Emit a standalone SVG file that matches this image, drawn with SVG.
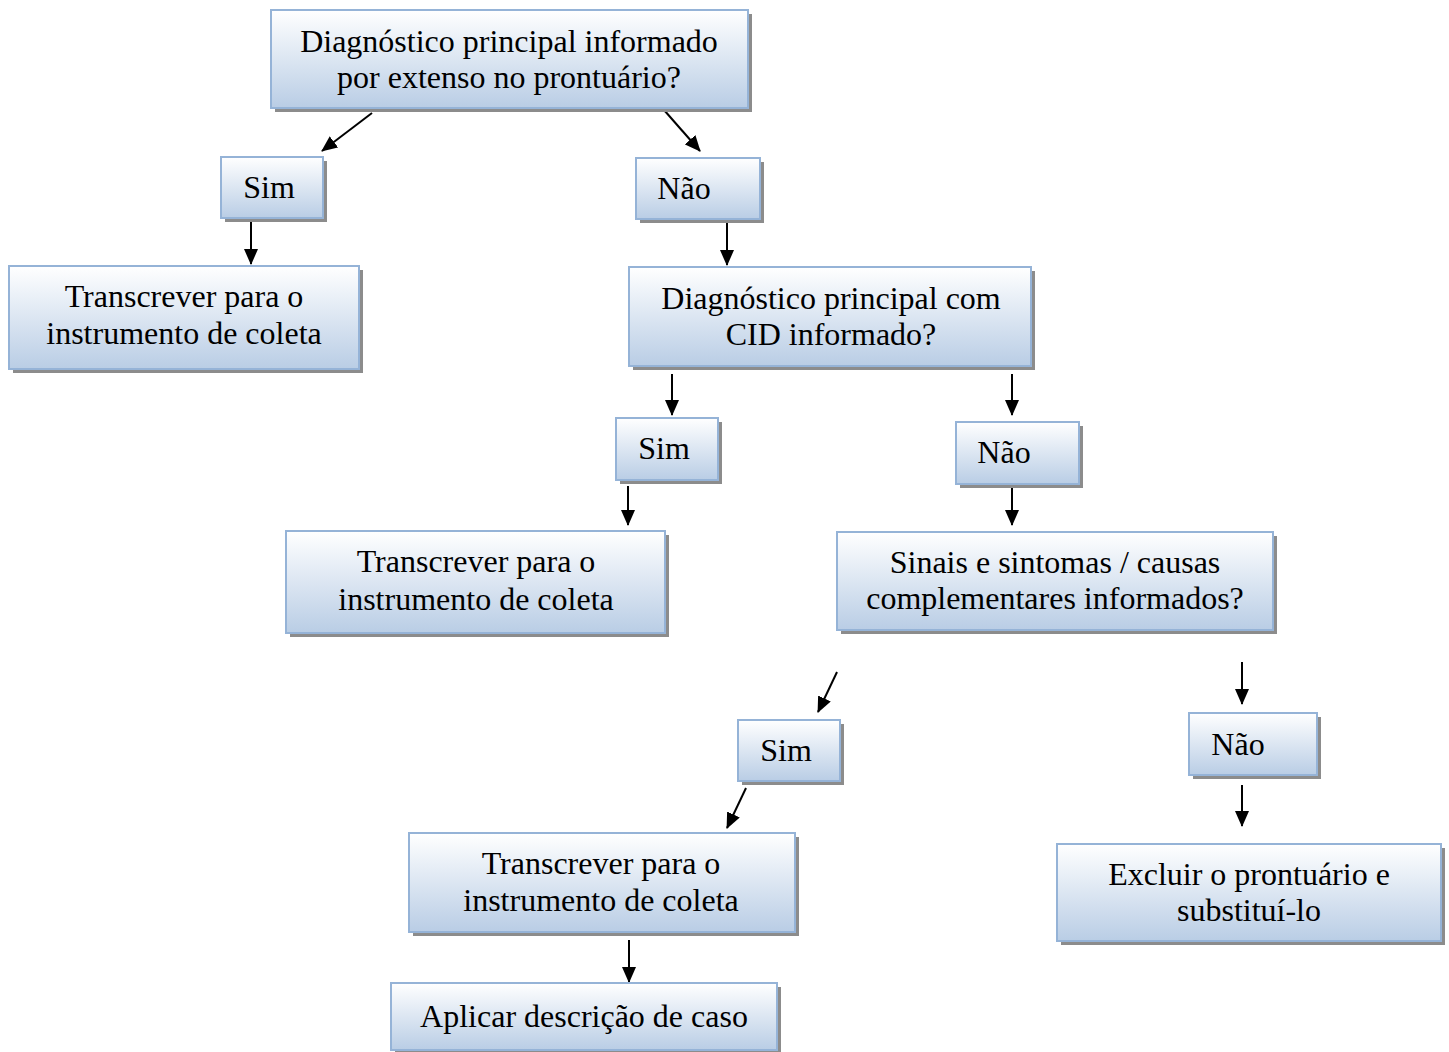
<svg xmlns="http://www.w3.org/2000/svg" width="1449" height="1052" viewBox="0 0 1449 1052">
  <defs>
    <linearGradient id="boxFill" x1="0" y1="0" x2="0" y2="1">
      <stop offset="0" stop-color="#ffffff"/>
      <stop offset="1" stop-color="#b9cde5"/>
    </linearGradient>
    <marker id="arrow" viewBox="0 0 16 14" refX="15" refY="7" markerWidth="16" markerHeight="14" markerUnits="userSpaceOnUse" orient="auto">
      <path d="M0,0 L16,7 L0,14 z" fill="#000"/>
    </marker>
  </defs>
  <style>
    .shadow { fill: #8c8c8c; }
    .box { fill: url(#boxFill); stroke: #95b3d7; stroke-width: 2; }
    .label { font-family: "Liberation Serif", "Times New Roman", serif; font-size: 32px; fill: #000; text-anchor: middle; }
    .conn line { stroke: #000; stroke-width: 2; marker-end: url(#arrow); }
  </style>
  <rect width="1449" height="1052" fill="#ffffff"/>

  <g id="connectors" class="conn">
    <line x1="372" y1="113" x2="322" y2="151"/>
    <line x1="664" y1="110" x2="700" y2="151"/>
    <line x1="251" y1="222" x2="251" y2="264"/>
    <line x1="727" y1="222" x2="727" y2="265"/>
    <line x1="672" y1="374" x2="672" y2="415"/>
    <line x1="1012" y1="374" x2="1012" y2="415"/>
    <line x1="628" y1="486" x2="628" y2="525"/>
    <line x1="1012" y1="486" x2="1012" y2="525"/>
    <line x1="837" y1="672" x2="818" y2="712"/>
    <line x1="1242" y1="662" x2="1242" y2="704"/>
    <line x1="746" y1="788" x2="727" y2="828"/>
    <line x1="1242" y1="785" x2="1242" y2="826"/>
    <line x1="629" y1="940" x2="629" y2="982"/>
  </g>

  <g id="q-extenso">
    <rect class="shadow" x="275" y="14" width="477" height="98"/>
    <rect class="box" x="271" y="10" width="477" height="98"/>
    <text class="label" x="509" y="52">Diagnóstico principal informado</text>
    <text class="label" x="509" y="88">por extenso no prontuário?</text>
  </g>

  <g id="sim-1">
    <rect class="shadow" x="225" y="161" width="102" height="61"/>
    <rect class="box" x="221" y="157" width="102" height="61"/>
    <text class="label" x="269" y="198">Sim</text>
  </g>

  <g id="nao-1">
    <rect class="shadow" x="640" y="162" width="124" height="61"/>
    <rect class="box" x="636" y="158" width="124" height="61"/>
    <text class="label" x="684" y="199">Não</text>
  </g>

  <g id="transcrever-1">
    <rect class="shadow" x="13" y="270" width="350" height="103"/>
    <rect class="box" x="9" y="266" width="350" height="103"/>
    <text class="label" x="184" y="307">Transcrever para o</text>
    <text class="label" x="184" y="344">instrumento de coleta</text>
  </g>

  <g id="q-cid">
    <rect class="shadow" x="633" y="271" width="402" height="99"/>
    <rect class="box" x="629" y="267" width="402" height="99"/>
    <text class="label" x="831" y="309">Diagnóstico principal com</text>
    <text class="label" x="831" y="345">CID informado?</text>
  </g>

  <g id="sim-2">
    <rect class="shadow" x="620" y="422" width="102" height="62"/>
    <rect class="box" x="616" y="418" width="102" height="62"/>
    <text class="label" x="664" y="459">Sim</text>
  </g>

  <g id="nao-2">
    <rect class="shadow" x="960" y="426" width="123" height="62"/>
    <rect class="box" x="956" y="422" width="123" height="62"/>
    <text class="label" x="1004" y="463">Não</text>
  </g>

  <g id="transcrever-2">
    <rect class="shadow" x="290" y="535" width="379" height="102"/>
    <rect class="box" x="286" y="531" width="379" height="102"/>
    <text class="label" x="476" y="572">Transcrever para o</text>
    <text class="label" x="476" y="610">instrumento de coleta</text>
  </g>

  <g id="q-sinais">
    <rect class="shadow" x="841" y="536" width="436" height="98"/>
    <rect class="box" x="837" y="532" width="436" height="98"/>
    <text class="label" x="1055" y="573">Sinais e sintomas / causas</text>
    <text class="label" x="1055" y="609">complementares informados?</text>
  </g>

  <g id="sim-3">
    <rect class="shadow" x="742" y="724" width="102" height="61"/>
    <rect class="box" x="738" y="720" width="102" height="61"/>
    <text class="label" x="786" y="761">Sim</text>
  </g>

  <g id="nao-3">
    <rect class="shadow" x="1193" y="717" width="128" height="62"/>
    <rect class="box" x="1189" y="713" width="128" height="62"/>
    <text class="label" x="1238" y="755">Não</text>
  </g>

  <g id="transcrever-3">
    <rect class="shadow" x="413" y="837" width="386" height="99"/>
    <rect class="box" x="409" y="833" width="386" height="99"/>
    <text class="label" x="601" y="874">Transcrever para o</text>
    <text class="label" x="601" y="911">instrumento de coleta</text>
  </g>

  <g id="aplicar">
    <rect class="shadow" x="395" y="987" width="386" height="67"/>
    <rect class="box" x="391" y="983" width="386" height="67"/>
    <text class="label" x="584" y="1027">Aplicar descrição de caso</text>
  </g>

  <g id="excluir">
    <rect class="shadow" x="1061" y="848" width="384" height="97"/>
    <rect class="box" x="1057" y="844" width="384" height="97"/>
    <text class="label" x="1249" y="885">Excluir o prontuário e</text>
    <text class="label" x="1249" y="921">substituí-lo</text>
  </g>
</svg>
